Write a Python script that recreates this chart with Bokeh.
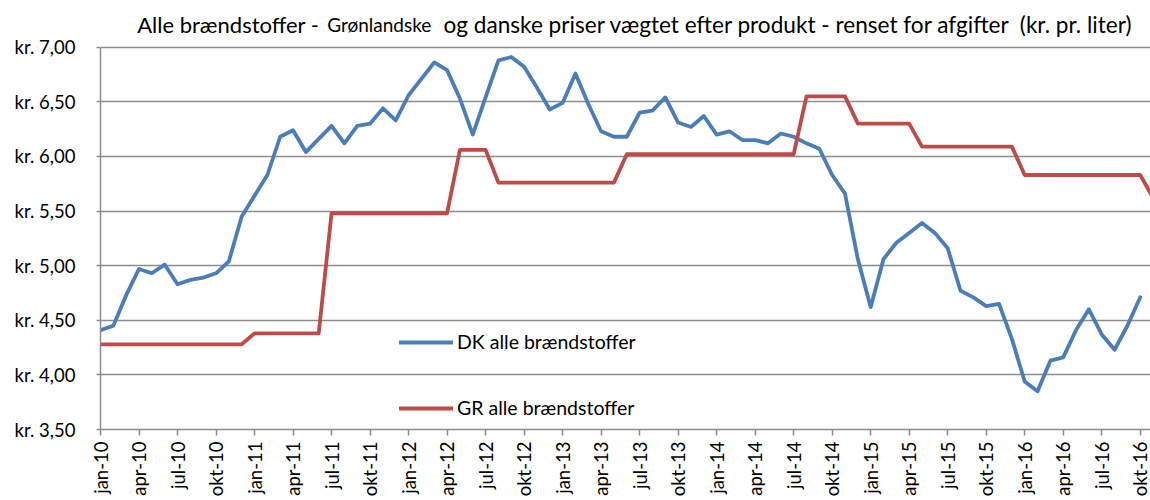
from math import pi
from bokeh.plotting import figure
from bokeh.models import (Range1d, FixedTicker, Legend, LegendItem, Label,
                          ColumnDataSource)
from bokeh.embed import file_html
from bokeh.resources import INLINE

# ---- data -------------------------------------------------------------
x_tick_labels = ["jan-10", "apr-10", "jul-10", "okt-10",
                 "jan-11", "apr-11", "jul-11", "okt-11",
                 "jan-12", "apr-12", "jul-12", "okt-12",
                 "jan-13", "apr-13", "jul-13", "okt-13",
                 "jan-14", "apr-14", "jul-14", "okt-14",
                 "jan-15", "apr-15", "jul-15", "okt-15",
                 "jan-16", "apr-16", "jul-16", "okt-16"]
y_ticks = [3.5, 4.0, 4.5, 5.0, 5.5, 6.0, 6.5, 7.0]
y_tick_labels = ["kr. 3,50", "kr. 4,00", "kr. 4,50", "kr. 5,00",
                 "kr. 5,50", "kr. 6,00", "kr. 6,50", "kr. 7,00"]

# DK alle brændstoffer, monthly from jan-10
dk = [4.41, 4.45, 4.73, 4.97, 4.93, 5.01, 4.83, 4.87, 4.89, 4.93,
      5.04, 5.45, 5.64, 5.83, 6.18, 6.24, 6.04, 6.16, 6.28, 6.12,
      6.28, 6.30, 6.44, 6.33, 6.56, 6.71, 6.86, 6.79, 6.53, 6.20,
      6.54, 6.88, 6.91, 6.82, 6.63, 6.43, 6.49, 6.76, 6.48, 6.23,
      6.18, 6.18, 6.40, 6.42, 6.54, 6.31, 6.27, 6.37, 6.20, 6.23,
      6.15, 6.15, 6.12, 6.21, 6.18, 6.12, 6.07, 5.83, 5.66, 5.06,
      4.62, 5.06, 5.21, 5.30, 5.39, 5.30, 5.16, 4.77, 4.71, 4.63,
      4.65, 4.33, 3.94, 3.85, 4.13, 4.16, 4.41, 4.60, 4.37, 4.23,
      4.45, 4.71]

# GR alle brændstoffer, monthly from jan-10
gr = [4.28, 4.28, 4.28, 4.28, 4.28, 4.28, 4.28, 4.28, 4.28, 4.28,
      4.28, 4.28, 4.38, 4.38, 4.38, 4.38, 4.38, 4.38, 5.48, 5.48,
      5.48, 5.48, 5.48, 5.48, 5.48, 5.48, 5.48, 5.48, 6.06, 6.06,
      6.06, 5.76, 5.76, 5.76, 5.76, 5.76, 5.76, 5.76, 5.76, 5.76,
      5.76, 6.02, 6.02, 6.02, 6.02, 6.02, 6.02, 6.02, 6.02, 6.02,
      6.02, 6.02, 6.02, 6.02, 6.02, 6.55, 6.55, 6.55, 6.55, 6.30,
      6.30, 6.30, 6.30, 6.30, 6.09, 6.09, 6.09, 6.09, 6.09, 6.09,
      6.09, 6.09, 5.83, 5.83, 5.83, 5.83, 5.83, 5.83, 5.83, 5.83,
      5.83, 5.83, 5.62]

title_parts = ["Alle brændstoffer - ", "Grønlandske",
               "og danske priser vægtet efter produkt - renset for afgifter\u00a0 (kr. pr. liter)"]
series_names = ["DK alle brændstoffer", "GR alle brændstoffer"]

# ---- style ------------------------------------------------------------
FONT = "Lato"
BLUE = "#4A7EBB"
RED = "#BE4B48"
GRID = "#8C8C8C"

# frame extends to the top of the canvas so the title can live inside it;
# the axis line is bounded to the 3.50-7.00 span
p = figure(width=1150, height=500, output_backend="svg", toolbar_location=None,
           x_range=Range1d(0, 81.8), y_range=Range1d(3.5, 7.4275),
           min_border_left=100, min_border_right=0, min_border_top=0,
           min_border_bottom=71)
p.outline_line_color = None
p.background_fill_color = "white"
p.border_fill_color = "white"

src_dk = ColumnDataSource(dict(x=list(range(len(dk))), y=dk))
src_gr = ColumnDataSource(dict(x=list(range(len(gr))), y=gr))
r_dk = p.line("x", "y", source=src_dk, line_color=BLUE, line_width=3.8,
              line_join="round", line_cap="round")
r_gr = p.line("x", "y", source=src_gr, line_color=RED, line_width=3.8,
              line_join="round", line_cap="round")

# axes
x_ticks = [3 * k for k in range(len(x_tick_labels))]
p.xaxis.ticker = FixedTicker(ticks=x_ticks)
p.xaxis.major_label_overrides = {t: lab for t, lab in zip(x_ticks, x_tick_labels)}
p.xaxis.major_label_orientation = pi / 2
p.xaxis.major_tick_in = 0
p.xaxis.major_tick_out = 6
p.xaxis.minor_tick_line_color = None
p.xaxis.major_label_standoff = 6
p.yaxis.ticker = FixedTicker(ticks=y_ticks)
p.yaxis.major_label_overrides = {t: lab for t, lab in zip(y_ticks, y_tick_labels)}
p.yaxis.bounds = (y_ticks[0], y_ticks[-1])
p.yaxis.major_tick_in = 0
p.yaxis.major_tick_out = 4
p.yaxis.minor_tick_line_color = None
p.yaxis.major_label_standoff = 21
for ax in (p.xaxis, p.yaxis):
    ax.axis_line_color = GRID
    ax.axis_line_width = 1.5
    ax.major_tick_line_color = GRID
    ax.major_tick_line_width = 1.5
    ax.major_label_text_font = FONT
    ax.major_label_text_font_size = "18.5px"
    ax.major_label_text_color = "black"

p.xgrid.grid_line_color = None
p.ygrid.ticker = FixedTicker(ticks=y_ticks)
p.ygrid.grid_line_color = GRID
p.ygrid.grid_line_width = 1.5

# legend
legend = Legend(items=[LegendItem(label=series_names[0], renderers=[r_dk]),
                       LegendItem(label=series_names[1], renderers=[r_gr])],
                location=(299, 10), orientation="vertical",
                glyph_width=54, glyph_height=22, label_height=22, spacing=43,
                padding=0, margin=0, label_standoff=4,
                border_line_color=None, background_fill_alpha=0,
                label_text_font=FONT, label_text_font_size="19.5px",
                label_text_color="black")
p.add_layout(legend)

# title (mixed sizes), screen units relative to the frame's lower-left
TY = 405
t1 = Label(x=36.7, y=TY, x_units="screen", y_units="screen", text=title_parts[0],
           text_font=FONT, text_font_size="22px", text_color="black",
           text_baseline="alphabetic", text_align="left")
t2 = Label(x=226.7, y=TY, x_units="screen", y_units="screen", text=title_parts[1],
           text_font=FONT, text_font_size="19px", text_color="black",
           text_baseline="alphabetic", text_align="left")
t3 = Label(x=343, y=TY, x_units="screen", y_units="screen", text=title_parts[2],
           text_font=FONT, text_font_size="22.6px", text_color="black",
           text_baseline="alphabetic", text_align="left")
for t in (t1, t2, t3):
    p.add_layout(t)

open("out.html", "w").write(file_html(p, INLINE))
